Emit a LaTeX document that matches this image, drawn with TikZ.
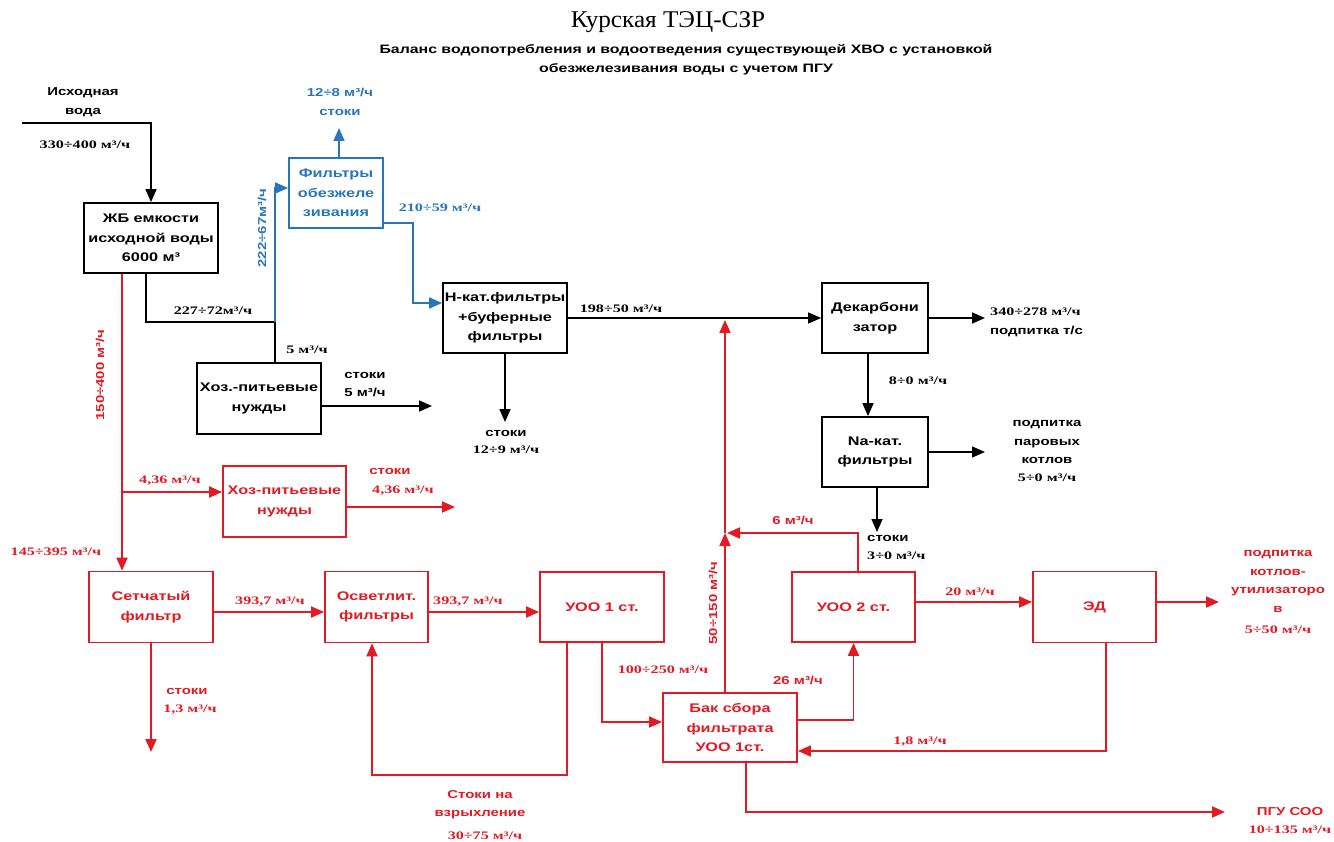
\documentclass[tikz,border=0pt]{standalone}
\usepackage{fontspec}
\setmainfont{Liberation Sans}
\newfontfamily\sansb{Liberation Sans}[FakeStretch=1.3]
\newfontfamily\serb{Liberation Serif}[FakeStretch=1.4]
\newfontfamily\titlef{Liberation Serif}[FakeStretch=1.05]
\usetikzlibrary{arrows.meta}
\definecolor{rd}{RGB}{226,26,36}
\definecolor{bl}{RGB}{40,118,186}
\begin{document}
\begin{tikzpicture}[x=1pt,y=-1pt,
  box/.style={draw, line width=1.8pt, inner sep=0pt, align=center,
    font=\sansb\bfseries\fontsize{12.5}{19.5}\selectfont},
  bbox/.style={box, draw=black, text=black},
  rbox/.style={box, draw=rd, text=rd},
  ubox/.style={box, draw=bl, text=bl},
  bk/.style={draw=black, line width=1.6pt},
  rl/.style={draw=rd, line width=1.9pt},
  ul/.style={draw=bl, line width=1.7pt},
  arr/.style={-{Triangle[length=13pt,width=11pt]}},
  sl/.style={inner sep=0pt, align=center, font=\sansb\bfseries\fontsize{11.5}{18.5}\selectfont},
  nl/.style={inner sep=0pt, align=center, font=\serb\bfseries\fontsize{11.5}{18.5}\selectfont},
]
\useasboundingbox[fill=white] (0,0) rectangle (1334,842);

% titles
\node[inner sep=0pt, font=\titlef\fontsize{24}{26}\selectfont] (title) at (668,22) {Курская ТЭЦ-СЗР};
\node[inner sep=0pt, align=center, font=\sansb\bfseries\fontsize{12.2}{19}\selectfont] (sub) at (686,60)
  {Баланс водопотребления и водоотведения существующей ХВО с установкой\\обезжелезивания воды с учетом ПГУ};

% boxes
\node[bbox, minimum width=134pt, minimum height=70pt] (zb) at (151,238) {ЖБ емкости\\исходной воды\\6000 м³};
\node[ubox, minimum width=94pt, minimum height=70pt] (fe) at (336,193) {Фильтры\\обезжеле\\зивания};
\node[bbox, minimum width=124pt, minimum height=70pt] (hk) at (505,318) {Н-кат.фильтры\\+буферные\\фильтры};
\node[bbox, minimum width=124pt, minimum height=71pt] (hoz) at (259,398.5) {Хоз.-питьевые\\нужды};
\node[bbox, minimum width=106pt, minimum height=70pt] (dek) at (875,318) {Декарбони\\затор};
\node[bbox, minimum width=106pt, minimum height=70pt] (na) at (875,452) {Na-кат.\\фильтры};
\node[rbox, minimum width=123pt, minimum height=71pt] (hozr) at (284.5,501.5) {Хоз-питьевые\\нужды};
\node[rbox, minimum width=124pt, minimum height=71pt] (set) at (151,607) {Сетчатый\\фильтр};
\node[rbox, minimum width=103pt, minimum height=71pt] (osv) at (376.5,607) {Осветлит.\\фильтры};
\node[rbox, minimum width=124pt, minimum height=70pt] (u1) at (602,607) {УОО 1 ст.};
\node[rbox, minimum width=123pt, minimum height=70pt] (u2) at (853.5,607) {УОО 2 ст.};
\node[rbox, minimum width=123pt, minimum height=71pt] (ed) at (1094.5,607) {ЭД};
\node[rbox, minimum width=134pt, minimum height=69pt] (bak) at (730,727.5) {Бак сбора\\фильтрата\\УОО 1ст.};

% free ends / junctions
\coordinate (src) at (22,123);
\coordinate (j1) at (275,322);
\coordinate (feout) at (339,128);
\coordinate (fecorner) at (413,223);
\coordinate (hkout) at (505,422);
\coordinate (hozout) at (432,406);
\coordinate (dekout) at (985,318);
\coordinate (naout) at (985,452);
\coordinate (nadown) at (877,532);
\coordinate (j2) at (122,492);
\coordinate (hozrout) at (455,507);
\coordinate (setout) at (151,752);
\coordinate (loopc) at (567,775);
\coordinate (jm) at (725,533);
\coordinate (jt) at (725,320);
\coordinate (edout) at (1219,602);
\coordinate (pguout) at (1225,812);

% black connectors
\draw[bk,arr] (src) -| (zb.north);
\draw[bk] ([xshift=-5pt]zb.south) |- (j1);
\draw[bk] (j1) -- (j1 |- hoz.north);
\draw[bk,arr] (hk.east) -- (dek.west);
\draw[bk,arr] (hk.south) -- (hkout);
\draw[bk,arr] ([yshift=-7.5pt]hoz.east) -- (hozout);
\draw[bk,arr] (dek.east) -- (dekout);
\draw[bk,arr] ([xshift=-7pt]dek.south) -- ([xshift=-7pt]na.north);
\draw[bk,arr] (na.east) -- (naout);
\draw[bk,arr] ([xshift=2pt]na.south) -- (nadown);

% blue connectors
\draw[ul,arr] (j1) |- ([yshift=5pt]fe.west);
\draw[ul,arr] ([xshift=3pt]fe.north) -- (feout);
\draw[ul,arr] ([yshift=-30pt]fe.east) -- (fecorner) |- ([yshift=15pt]hk.west);

% red connectors
\draw[rl,arr] ([xshift=-29pt]zb.south) -- ([xshift=-29pt]set.north);
\draw[rl,arr] (j2) -- (j2 -| hozr.west);
\draw[rl,arr] ([yshift=-5.5pt]hozr.east) -- (hozrout);
\draw[rl,arr] ([yshift=-5pt]set.east) -- ([yshift=-5pt]osv.west);
\draw[rl,arr] ([yshift=-5pt]osv.east) -- ([yshift=-5pt]u1.west);
\draw[rl,arr] (set.south) -- (setout);
\draw[rl,arr] ([xshift=-35pt]u1.south) -- (loopc) -| ([xshift=-4.5pt]osv.south);
\draw[rl,arr] (u1.south) |- ([yshift=5.5pt]bak.west);
\draw[rl,arr] ([yshift=7.5pt]bak.east) -| (u2.south);
\draw[rl,arr] ([xshift=-5pt]bak.north) -- (jm);
\draw[rl,arr] (jm) -- (jt);
\draw[rl,arr] ([xshift=4.5pt]u2.north) |- ([xshift=2pt]jm);
\draw[rl,arr] ([yshift=5pt]u2.east) -- ([yshift=5pt]ed.west);
\draw[rl,arr] ([yshift=5pt]ed.east) -- (edout);
\draw[rl,arr] ([xshift=11.5pt]ed.south) |- ([yshift=-23.5pt]bak.east);
\draw[rl,arr] ([xshift=16pt]bak.south) |- (pguout);

% black labels
\node[sl] (l1) at (83,102) {Исходная\\вода};
\node[nl] (l2) at (85,145) {330÷400 м³/ч};
\node[nl] (l3) at (213,311) {227÷72м³/ч};
\node[nl] (l4) at (621,309) {198÷50 м³/ч};
\node[nl] (l5) at (307,350) {5 м³/ч};
\node[sl] (l6) at (365,384.5) {стоки\\5 м³/ч};
\node[sl] (l7) at (506,433) {стоки};
\node[nl] (l8) at (506,450) {12÷9 м³/ч};
\node[nl, anchor=west] (l9) at (990,312) {340÷278 м³/ч};
\node[sl, anchor=west] (l10) at (990,331) {подпитка т/с};
\node[nl] (l11) at (918,381) {8÷0 м³/ч};
\node[sl] (l12) at (1047,442) {подпитка\\паровых\\котлов};
\node[nl] (l13) at (1047,478) {5÷0 м³/ч};
\node[sl, anchor=west] (l14) at (867,538) {стоки};
\node[nl, anchor=west] (l15) at (867,556) {3÷0 м³/ч};

% blue labels
\node[sl, text=bl] (b1) at (340,102) {12÷8 м³/ч\\стоки};
\node[nl, text=bl] (b2) at (440,208) {210÷59 м³/ч};
\node[sl, text=bl, rotate=90] (b3) at (262,228) {222÷67м³/ч};

% red labels
\node[sl, text=rd, rotate=90] (r1) at (100,375) {150÷400 м³/ч};
\node[nl, text=rd] (r2) at (170,481) {4,36 м³/ч};
\node[sl, text=rd] (r3) at (390,471) {стоки};
\node[nl, text=rd] (r4) at (403,491) {4,36 м³/ч};
\node[nl, text=rd] (r5) at (56,552) {145÷395 м³/ч};
\node[nl, text=rd] (r6) at (270,602) {393,7 м³/ч};
\node[nl, text=rd] (r7) at (468,602) {393,7 м³/ч};
\node[sl, text=rd] (r8) at (187,691) {стоки};
\node[nl, text=rd] (r9) at (190,710) {1,3 м³/ч};
\node[nl, text=rd] (r10) at (663,670) {100÷250 м³/ч};
\node[sl, text=rd, rotate=90] (r11) at (713,603) {50÷150 м³/ч};
\node[sl, text=rd] (r12) at (793,520) {6 м³/ч};
\node[sl, text=rd] (r13) at (798,680) {26 м³/ч};
\node[nl, text=rd] (r14) at (970,592) {20 м³/ч};
\node[sl, text=rd] (r15) at (1278,581.5) {подпитка\\котлов-\\утилизаторо\\в};
\node[nl, text=rd] (r16) at (1278,630) {5÷50 м³/ч};
\node[nl, text=rd] (r17) at (920,742) {1,8 м³/ч};
\node[sl, text=rd] (r18) at (1290,812) {ПГУ СОО};
\node[nl, text=rd] (r19) at (1290,830) {10÷135 м³/ч};
\node[sl, text=rd] (r20) at (480,804.5) {Стоки на\\взрыхление};
\node[nl, text=rd] (r21) at (485,836) {30÷75 м³/ч};
\end{tikzpicture}
\end{document}
